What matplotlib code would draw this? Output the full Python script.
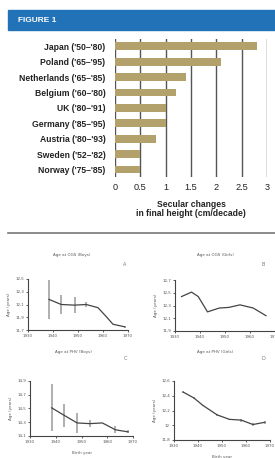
import matplotlib
matplotlib.use("Agg")
import matplotlib.pyplot as plt
from matplotlib.patches import Rectangle
from matplotlib.lines import Line2D

# bar chart data
countries = ["Japan ('50\u2013'80)", "Poland ('65\u2013'95)", "Netherlands ('65\u2013'85)",
             "Belgium ('60\u2013'80)", "UK ('80\u2013'91)", "Germany ('85\u2013'95)",
             "Austria ('80\u2013'93)", "Sweden ('52\u2013'82)", "Norway ('75\u2013'85)"]
changes = [2.8, 2.1, 1.4, 1.2, 1.0, 1.0, 0.8, 0.5, 0.5]
bar_ticks = [0, 0.5, 1, 1.5, 2, 2.5, 3]
bar_ticklabels = ["0", "0.5", "1", "1.5", "2", "2.5", "3"]

# panel A: age at OGS (boys)
a_years = [1938.4, 1943.3, 1948.7, 1953.3, 1958, 1961.3, 1964, 1968.7]
a_age = [12.18, 12.10, 12.09, 12.10, 12.05, 11.91, 11.79, 11.75]
a_err = [0.30, 0.15, 0.13, 0.04, 0, 0, 0, 0.02]
a_ticks = [11.7, 11.9, 12.1, 12.3, 12.5]
a_ticklabels = ["11,7", "11,9", "12,1", "12,3", "12,5"]

# panel B: age at OGS (girls)
b_years = [1932.6, 1936.6, 1939.3, 1943, 1947.7, 1951.5, 1956, 1961.3, 1966.4]
b_age = [12.44, 12.51, 12.44, 12.20, 12.26, 12.27, 12.31, 12.26, 12.14]
b_ticks = [11.9, 12.1, 12.3, 12.5, 12.7]
b_ticklabels = ["11,9", "12,1", "12,3", "12,5", "12,7"]

# panel C: age at PHV (boys)
c_years = [1938.4, 1943.3, 1948.3, 1953.2, 1958.1, 1963.2, 1968.1]
c_age = [14.51, 14.40, 14.29, 14.28, 14.29, 14.19, 14.16]
c_err = [0.34, 0.17, 0.15, 0.05, 0.0, 0.05, 0.02]
c_ticks = [14.1, 14.3, 14.5, 14.7, 14.9]
c_ticklabels = ["14,1", "14,3", "14,5", "14,7", "14,9"]

# panel D: age at PHV (girls)
d_years = [1933.8, 1938.3, 1942, 1948, 1953.1, 1958, 1962.9, 1967.8]
d_age = [12.45, 12.37, 12.27, 12.14, 12.08, 12.07, 12.01, 12.04]
d_err = [0.01, 0.01, 0.01, 0.01, 0.01, 0.02, 0.02, 0.02]
d_ticks = [11.8, 12.0, 12.2, 12.4, 12.6]
d_ticklabels = ["11,8", "12", "12,2", "12,4", "12,6"]

year_ticks = [1930, 1940, 1950, 1960, 1970]

W, H = 275, 458
fig = plt.figure(figsize=(W / 100, H / 100), dpi=100)
fig.patch.set_facecolor("white")


def box(x0, y0, x1, y1):
    # pixel box (top-left origin) -> figure fraction
    return [x0 / W, 1 - y1 / H, (x1 - x0) / W, (y1 - y0) / H]


# header
fig.patches.append(Rectangle((8 / W, 1 - 30 / H), (W - 8) / W, 20 / H,
                             transform=fig.transFigure, color="#2272b8", zorder=0))
fig.text(18 / W, 1 - 20 / H, "FIGURE 1", color="white", fontsize=6,
         fontweight="bold", va="center", ha="left", family="Liberation Sans")

# separator line
fig.lines.append(Line2D([8 / W, 1], [1 - 233 / H, 1 - 233 / H], transform=fig.transFigure,
                        color="#777777", lw=1.2))

# bar chart
bar_font = "Liberation Sans"
ax = fig.add_axes(box(115, 38.6, 267, 177.2))
ypos = list(range(len(countries)))
ax.barh(ypos, changes, height=0.5, color="#b3a16b", zorder=3)
ax.set_ylim(8.5, -0.5)
ax.set_xlim(0, 3)
for t in bar_ticks:
    ax.axvline(t, color="#555555", lw=1.0, zorder=1)
ax.set_xticks(bar_ticks)
ax.set_xticklabels(bar_ticklabels, family=bar_font, fontsize=6.6, color="#222222")
ax.set_yticks(ypos)
ax.set_yticklabels(countries, family=bar_font, fontsize=6.2, fontweight="bold", color="#222222")
ax.tick_params(axis="y", length=0, pad=7)
ax.tick_params(axis="x", length=0, pad=4)
for s in ax.spines.values():
    s.set_visible(False)
ax.set_xlabel("Secular changes\nin final height (cm/decade)", family=bar_font,
              fontsize=6.2, fontweight="bold", color="#222222", labelpad=6, linespacing=1.05)


def panel(rect, years, age, err, ticks, ticklabels, title, letter, title_xy, letter_xy, xlabel=None):
    p = fig.add_axes(box(*rect))
    p.plot(years, age, color="#444444", lw=0.9, zorder=3)
    if err is not None:
        p.errorbar(years, age, yerr=err, fmt="none", ecolor="#9a9a9a", elinewidth=1.1,
                   capsize=0, zorder=2)
    p.set_xlim(1930, 1970)
    p.set_ylim(ticks[0], ticks[-1])
    p.set_xticks(year_ticks)
    p.set_xticklabels([str(y) for y in year_ticks], fontsize=2.9, color="#555555")
    p.set_yticks(ticks)
    p.set_yticklabels(ticklabels, fontsize=2.9, color="#555555")
    p.tick_params(length=1.5, width=0.6, pad=1.5, color="#444444")
    for s in ["top", "right"]:
        p.spines[s].set_visible(False)
    for s in ["left", "bottom"]:
        p.spines[s].set_linewidth(0.8)
        p.spines[s].set_color("#444444")
    p.set_ylabel("Age (years)", fontsize=2.9, color="#555555", labelpad=3)
    if xlabel:
        p.set_xlabel(xlabel, fontsize=2.9, color="#555555", labelpad=5)
    fig.text(title_xy[0] / W, 1 - title_xy[1] / H, title, fontsize=2.9, color="#555555",
             ha="center", va="center")
    fig.text(letter_xy[0] / W, 1 - letter_xy[1] / H, letter, fontsize=3.5, color="#777777",
             ha="center", va="center")
    return p


panel((28, 279, 128, 330), a_years, a_age, a_err, a_ticks, a_ticklabels,
      "Age at OGS (Boys)", "A", (72, 255), (125, 265))
panel((175, 280, 275, 331), b_years, b_age, None, b_ticks, b_ticklabels,
      "Age at OGS (Girls)", "B", (215, 255), (263, 265))
panel((30, 381, 133, 436), c_years, c_age, c_err, c_ticks, c_ticklabels,
      "Age at PHV (Boys)", "C", (73, 352), (125, 358), xlabel="Birth year")
panel((174, 381, 270, 440), d_years, d_age, d_err, d_ticks, d_ticklabels,
      "Age at PHV (Girls)", "D", (215, 352), (263, 358), xlabel="Birth year")

fig.savefig("out.png", dpi=100)
